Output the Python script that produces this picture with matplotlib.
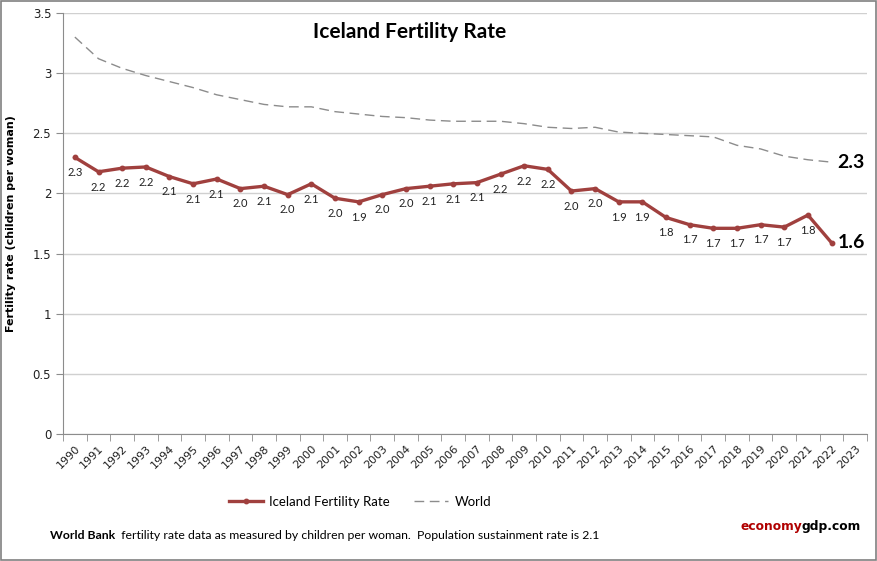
import numpy as np
import matplotlib.pyplot as plt
import matplotlib.patches as mpatches

# Datos
anios = [str(a) for a in range(1990, 2024)]
islandia = [2.30, 2.18, 2.21, 2.22, 2.14, 2.08, 2.12, 2.04, 2.06, 1.99,
            2.08, 1.96, 1.93, 1.99, 2.04, 2.06, 2.08, 2.09, 2.16, 2.23,
            2.20, 2.02, 2.04, 1.93, 1.93, 1.80, 1.74, 1.71, 1.71, 1.74,
            1.72, 1.82, 1.59]
mundo = [3.30, 3.12, 3.04, 2.98, 2.93, 2.88, 2.82, 2.78, 2.74, 2.72,
         2.72, 2.68, 2.66, 2.64, 2.63, 2.61, 2.60, 2.60, 2.60, 2.58,
         2.55, 2.54, 2.55, 2.51, 2.50, 2.49, 2.48, 2.47, 2.40, 2.37,
         2.31, 2.28, 2.26]

rojo = '#A0403E'
gris = '#8C8C8C'

fig = plt.figure(figsize=(8.78, 5.61), dpi=100)
ax = fig.add_axes([0.0718, 0.2264, 0.9157, 0.7504])

x = np.arange(len(islandia))
ax.plot(x, mundo, color=gris, lw=1.0, ls=(0, (7, 4)), label='World', zorder=2)
ax.plot(x, islandia, color=rojo, lw=2.4, marker='o', ms=3.2,
        label='Iceland Fertility Rate', zorder=3)

# Etiquetas de datos (debajo de cada punto)
for i, v in enumerate(islandia[:-1]):
    ax.annotate(f'{v:.1f}', (i, v), xytext=(0, -11), textcoords='offset points',
                ha='center', va='center', fontsize=8, family='Lato', color='#202020')
ax.annotate(f'{islandia[-1]:.1f}', (len(islandia) - 1, islandia[-1]), xytext=(14, 0),
            textcoords='offset points', ha='center', va='center', fontsize=14,
            fontweight='bold', family='Lato')
ax.annotate(f'{mundo[-1]:.1f}', (len(mundo) - 1, mundo[-1]), xytext=(14, 0),
            textcoords='offset points', ha='center', va='center', fontsize=14,
            fontweight='bold', family='Lato')

# Ejes
ax.set_xlim(-0.5, len(anios) - 0.5)
ax.set_ylim(0, 3.5)
ax.set_yticks(np.arange(0, 3.51, 0.5))
ax.set_yticklabels(['0', '0.5', '1', '1.5', '2', '2.5', '3', '3.5'])
ax.set_xticks(np.arange(len(anios)))
ax.set_xticklabels(anios, rotation=45, ha='right', rotation_mode='anchor')
ax.set_xticks(np.arange(-0.5, len(anios)), minor=True)
ax.tick_params(axis='x', which='major', length=0, pad=7, labelsize=8, colors='#202020')
ax.tick_params(axis='x', which='minor', length=5, color=gris, direction='out')
ax.tick_params(axis='y', length=5, color=gris, labelsize=8.5, colors='#202020')
ax.grid(axis='y', color='#D0D0D0', lw=1)
ax.set_axisbelow(True)
for s in ['top', 'right']:
    ax.spines[s].set_visible(False)
for s in ['left', 'bottom']:
    ax.spines[s].set_color(gris)

ax.set_ylabel('Fertility rate (children per woman)', fontsize=8, fontweight='bold')
ax.yaxis.set_label_coords(-0.058, 0.5)

fig.text(0.466, 0.943, 'Iceland Fertility Rate', ha='center', va='center',
         fontsize=15, fontweight='bold', family='Lato')

handles, labels = ax.get_legend_handles_labels()
fig.legend(handles[::-1], labels[::-1], loc='center', bbox_to_anchor=(0.41, 0.105),
           ncol=2, frameon=False, prop={'family': 'Lato', 'size': 9.5},
           handlelength=2.6, columnspacing=1.8, handletextpad=0.5)

# Pie de figura
t1 = fig.text(0.057, 0.046, 'World Bank', fontsize=8.8, fontweight='bold',
              va='center', family='Lato')
ax.annotate('  fertility rate data as measured by children per woman.  Population sustainment rate is 2.1',
            xy=(1, 0.5), xycoords=t1, va='center', ha='left', fontsize=8.8, family='Lato',
            annotation_clip=False)
t2 = fig.text(0.843, 0.061, 'economy', fontsize=8.8, fontweight='bold', color='#B00000',
              va='center')
ax.annotate('gdp.com', xy=(1, 0.5), xycoords=t2, va='center', ha='left', fontsize=8.8,
            fontweight='bold', color='black', annotation_clip=False)

fig.patches.append(mpatches.Rectangle((0.001, 0.002), 0.997, 0.996, transform=fig.transFigure,
                                      fill=False, edgecolor='#808080', lw=1.2))

fig.savefig('out.png', dpi=100)
